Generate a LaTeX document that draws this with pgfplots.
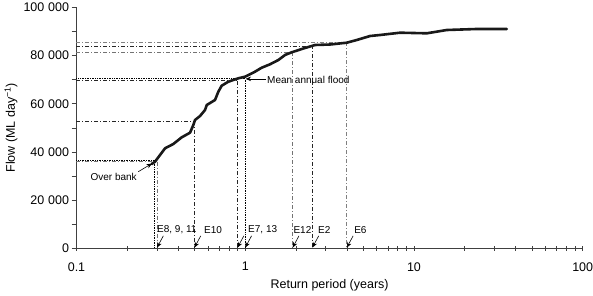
\documentclass[border=0pt]{standalone}
\usepackage{fontspec}
\setmainfont{Liberation Sans}
\usepackage{pgfplots}
\pgfplotsset{compat=1.18}
\usetikzlibrary{arrows.meta}
\newcommand{\ks}{\hspace{0.3em}}
\newcommand{\tfont}{\fontsize{12.5bp}{14bp}\selectfont}
\newcommand{\afont}{\fontsize{10bp}{11bp}\selectfont}
\begin{document}
\begin{tikzpicture}[x=1bp,y=1bp]
\path[use as bounding box] (-76.5,-46.7) rectangle (516.5,248.3);
\begin{axis}[
  scale only axis, width=506.2bp, height=241bp,
  xmode=log, xmin=0.1, xmax=100, ymin=0, ymax=100000,
  axis x line=bottom, axis y line=left,
  axis line style={-, black!75, line width=0.6bp},
  xtick={0.1,1,10,100}, xticklabels={0.1,1,10,100},
  ytick={0,20000,40000,60000,80000,100000},
  yticklabels={{\tfont 0},{\tfont 20\ks000},{\tfont 40\ks000},{\tfont 60\ks000},{\tfont 80\ks000},{\tfont 100\ks000}},
  minor ytick={10000,30000,50000,70000,90000},
  scaled y ticks=false,
  tick align=center,
  major tick length=5bp, minor tick length=5bp,
  tick style={black!75, line width=0.6bp},
  ytick style={xshift=-2.5bp},
  tick label style={font=\tfont},
  xticklabel style={yshift=-8bp},
  yticklabel style={font=\tfont, xshift=-1.5bp},
  xlabel={Return period (years)},
  ylabel={Flow (ML day\textsuperscript{−1})},
  label style={font=\tfont},
  xlabel style={at={(axis description cs:0.5,0)}, anchor=center, yshift=-36.7bp},
  ylabel style={at={(axis description cs:0,0.5)}, anchor=center, yshift=65.5bp},
  clip=false,
]
% reference lines
\addplot[black, densely dotted, line width=0.7bp] coordinates {(0.1,36600) (0.289,36600) (0.289,0)};
\addplot[black!55, line width=0.7bp, dash pattern=on 4bp off 2bp on 1bp off 2bp] coordinates {(0.1,36200) (0.30,36200) (0.30,0)};
\addplot[black!85, line width=0.7bp, dash pattern=on 4bp off 2bp on 1bp off 2bp] coordinates {(0.1,52500) (0.5,52500) (0.5,0)};
\addplot[black, densely dotted, line width=0.7bp] coordinates {(0.1,70400) (1.0,70400) (1.0,0)};
\addplot[black!85, line width=0.7bp, dash pattern=on 4bp off 2bp on 1bp off 2bp] coordinates {(0.1,69700) (0.9,69700) (0.9,0)};
\addplot[black!55, line width=0.7bp, dash pattern=on 4bp off 2bp on 1bp off 2bp] coordinates {(0.1,81200) (1.91,81200) (1.91,0)};
\addplot[black!85, line width=0.7bp, dash pattern=on 4bp off 2bp on 1bp off 2bp] coordinates {(0.1,83600) (2.5,83600) (2.5,0)};
\addplot[black!50, line width=0.7bp, dash pattern=on 4bp off 2bp on 1bp off 2bp] coordinates {(0.1,85400) (4.0,85400) (4.0,0)};
% flow duration curve
\addplot[black!90, line width=2.6bp, line join=round, line cap=round] coordinates {
(0.2791,34980) (0.2920,35930) (0.3126,38710) (0.3347,41490) (0.3749,43280)
(0.4205,46060) (0.4709,47970) (0.4925,51160) (0.5041,53240) (0.5398,54900)
(0.5778,57390) (0.5915,59460) (0.6622,61540) (0.6928,64980) (0.7256,67470)
(0.7943,69130) (0.9101,70540) (0.9972,71200) (1.143,73280) (1.252,74940)
(1.403,76350) (1.571,78130) (1.721,80210) (1.886,81330) (2.162,82700)
(2.593,84360) (3.183,84560) (3.997,85310) (4.581,86430) (5.494,88090)
(6.298,88510) (8.275,89460) (11.91,89210) (15.65,90580) (23.57,91000) (35.49,91000)
};
% annotations
\node[font=\afont, inner sep=0pt, anchor=center] at (axis cs:0.1661,29460) {Over bank};
\draw[black, line width=0.6bp, -{Stealth[length=5.5bp,width=4.5bp]}] (axis cs:0.2324,31780) -- (axis cs:0.2802,35190);
\node[font=\afont, inner sep=0pt, anchor=west] at (axis cs:1.346,70000) {Mean annual flood};
\draw[black, line width=0.6bp, -{Stealth[length=5.5bp,width=4.5bp]}] (axis cs:1.328,70300) -- (axis cs:1.004,70300);
\node[font=\afont, inner sep=0pt, anchor=west] at (axis cs:0.300,7600) {E8, 9, 11};
\node[font=\afont, inner sep=0pt, anchor=west] at (axis cs:0.570,7600) {E10};
\node[font=\afont, inner sep=0pt, anchor=west] at (axis cs:1.039,7600) {E7, 13};
\node[font=\afont, inner sep=0pt, anchor=west] at (axis cs:1.928,7600) {E12};
\node[font=\afont, inner sep=0pt, anchor=west] at (axis cs:2.70,7600) {E2};
\node[font=\afont, inner sep=0pt, anchor=west] at (axis cs:4.416,7600) {E6};
\pgfplotsinvokeforeach{0.30,0.5,0.9,1.0,1.91,2.5,4.0}{
  \draw[black, line width=0.6bp, {Stealth[length=5.5bp,width=4.5bp]}-] (axis cs:#1,300) -- ++(6.3bp,11.7bp);
}
\end{axis}
\end{tikzpicture}
\end{document}
